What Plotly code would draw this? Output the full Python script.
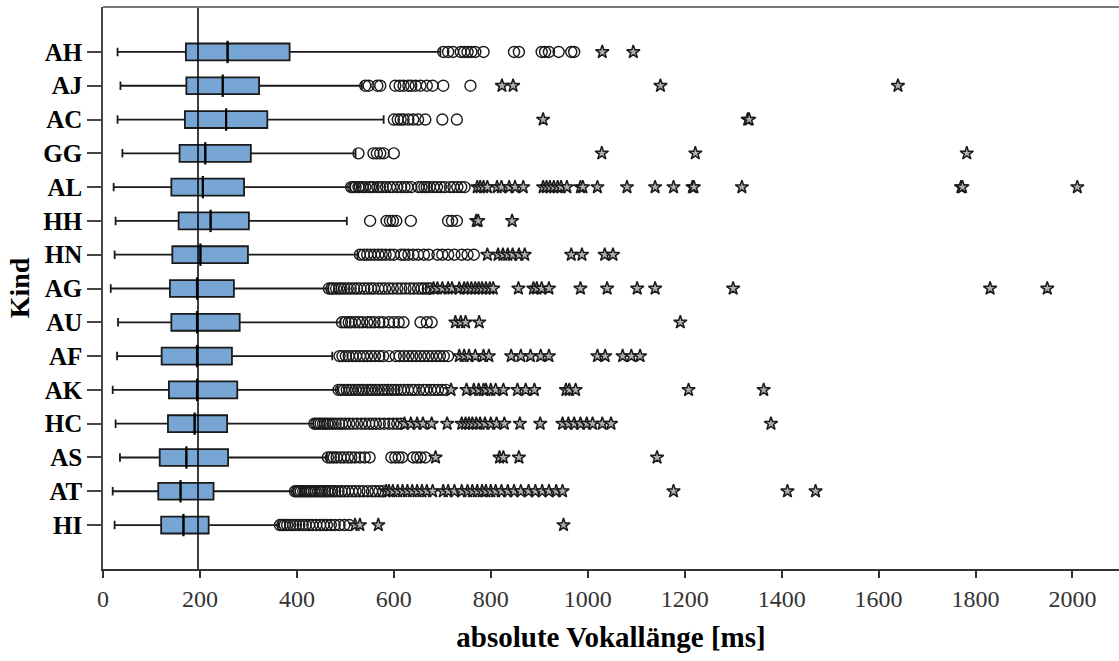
import plotly.graph_objects as go

# Vowel length per child: box statistics (ms), listed top to bottom
kinds = ["AH", "AJ", "AC", "GG", "AL", "HH", "HN", "AG", "AU", "AF", "AK", "HC", "AS", "AT", "HI"]
lower_whisker = [30, 36, 30, 40, 22, 26, 24, 16, 31, 29, 20, 26, 35, 20, 24]
q1 = [171, 172, 169, 158, 141, 156, 143, 138, 141, 121, 136, 134, 117, 114, 120]
median = [257, 247, 254, 211, 206, 222, 201, 194, 194, 194, 194, 189, 172, 160, 166]
q3 = [385, 322, 339, 305, 291, 301, 299, 270, 282, 266, 277, 256, 258, 228, 218]
upper_whisker = [696, 534, 579, 521, 510, 503, 525, 465, 490, 473, 484, 434, 462, 393, 362]

# Outliers (circles) and extreme values (stars) per child
AH_circ = [702, 712, 722, 738, 745, 752, 760, 768, 785, 848, 858, 905, 912, 920, 940, 966, 972]
AH_star = [1030, 1094]
AJ_circ = [541, 548, 566, 572, 603, 612, 620, 630, 636, 645, 655, 668, 680, 702, 758]
AJ_star = [823, 846, 1150, 1640]
AC_circ = [600, 608, 614, 620, 630, 640, 650, 665, 700, 730]
AC_star = [908, 1330, 1333]
GG_circ = [527, 558, 565, 572, 579, 600]
GG_star = [1029, 1222, 1782]
AL_circ = [512, 516, 521, 527, 530, 536, 541, 549, 553, 558, 566, 571, 577, 584, 592, 598, 607,
           615, 622, 628, 636, 651, 657, 663, 668, 674, 682, 689, 697, 705, 716, 723, 731, 739, 746]
AL_star = [772, 778, 785, 793, 813, 822, 838, 850, 867, 908, 915, 922, 930, 938, 945, 957, 985,
           990, 1020, 1081, 1139, 1177, 1216, 1219, 1318, 1770, 1773, 2010]
HH_circ = [551, 585, 592, 598, 605, 635, 712, 720, 730]
HH_star = [770, 774, 844]
HN_circ = [530, 538, 545, 552, 560, 568, 575, 583, 592, 600, 615, 622, 630, 640, 650, 662, 672,
           690, 700, 712, 725, 740, 752, 765]
HN_star = [793, 815, 825, 835, 845, 858, 870, 966, 988, 1035, 1052]
AG_circ = [466, 471, 475, 481, 487, 492, 498, 505, 511, 518, 524, 531, 539, 546, 553, 559, 568,
           575, 582, 590, 598, 607, 615, 624, 633, 641, 650, 657, 663, 670, 676]
AG_star = [682, 690, 700, 712, 720, 735, 745, 752, 760, 768, 775, 782, 790, 798, 805, 857, 888,
           895, 905, 920, 985, 1040, 1102, 1139, 1300, 1830, 1948]
AU_circ = [493, 500, 507, 512, 520, 528, 535, 545, 552, 560, 570, 578, 590, 600, 610, 620, 655,
           668, 678]
AU_star = [727, 738, 748, 776, 1191]
AF_circ = [488, 494, 501, 507, 515, 522, 530, 537, 545, 553, 561, 570, 578, 590, 604, 612, 621,
           630, 638, 646, 655, 663, 671, 679, 688, 695, 703, 712]
AF_star = [735, 745, 755, 768, 785, 796, 842, 862, 882, 903, 920, 1020, 1036, 1072, 1090, 1108]
AK_circ = [486, 491, 497, 503, 509, 514, 521, 527, 533, 538, 545, 551, 556, 563, 569, 576, 581,
           588, 595, 601, 607, 614, 621, 629, 637, 643, 652, 661, 667, 676, 684, 691, 699, 707]
AK_star = [718, 750, 765, 775, 785, 790, 800, 810, 826, 855, 872, 890, 955, 962, 975, 1208, 1363]
HC_circ = [436, 440, 445, 449, 454, 458, 463, 468, 474, 480, 487, 493, 500, 508, 516, 524, 533,
           541, 549, 556, 563, 571, 580, 590, 599, 607, 615]
HC_star = [622, 635, 648, 660, 678, 710, 740, 748, 755, 762, 770, 778, 788, 800, 812, 828, 860,
           902, 948, 960, 972, 985, 998, 1010, 1030, 1048, 1378]
AS_circ = [464, 470, 476, 482, 490, 497, 505, 512, 520, 530, 540, 550, 595, 603, 610, 617, 640,
           648, 655, 665]
AS_star = [686, 818, 826, 858, 1143]
AT_circ = [396, 400, 404, 408, 413, 417, 421, 426, 430, 435, 439, 444, 449, 453, 458, 463, 468,
           473, 479, 486, 492, 499, 506, 514, 521, 529, 537, 546, 555, 562, 570, 578]
AT_star = [584, 590, 598, 608, 618, 628, 638, 648, 658, 668, 680, 702, 712, 725, 740, 752, 762,
           772, 782, 790, 800, 810, 822, 835, 848, 862, 878, 892, 906, 920, 935, 948, 1177, 1412, 1470]
HI_circ = [365, 370, 375, 380, 386, 392, 398, 405, 412, 418, 425, 432, 440, 448, 455, 462, 470,
           478, 488, 498, 508]
HI_star = [520, 530, 568, 950]

circles = [AH_circ, AJ_circ, AC_circ, GG_circ, AL_circ, HH_circ, HN_circ, AG_circ,
           AU_circ, AF_circ, AK_circ, HC_circ, AS_circ, AT_circ, HI_circ]
stars = [AH_star, AJ_star, AC_star, GG_star, AL_star, HH_star, HN_star, AG_star,
         AU_star, AF_star, AK_star, HC_star, AS_star, AT_star, HI_star]

reference_ms = 196

serif = "Liberation Serif"
ink = "#1a1a1a"

fig = go.Figure()

fig.add_trace(go.Box(
    y=kinds, q1=q1, median=median, q3=q3,
    lowerfence=lower_whisker, upperfence=upper_whisker,
    orientation="h", boxpoints=False,
    width=0.5, whiskerwidth=0.5,
    fillcolor="#78a6d4",
    line=dict(color=ink, width=1.8),
    showlegend=False, hoverinfo="skip",
))

# thicker median strokes
fig.add_trace(go.Scatter(
    x=median, y=kinds, mode="markers",
    marker=dict(symbol="line-ns", size=16, line=dict(color="black", width=2.2)),
    showlegend=False, hoverinfo="skip",
))

cx, cy, sx, sy = [], [], [], []
for k, c, s in zip(kinds, circles, stars):
    cx += c
    cy += [k] * len(c)
    sx += s
    sy += [k] * len(s)

fig.add_trace(go.Scatter(
    x=cx, y=cy, mode="markers",
    marker=dict(symbol="circle-open", size=11, color=ink, line=dict(width=1.4)),
    showlegend=False, hoverinfo="skip",
))
fig.add_trace(go.Scatter(
    x=sx, y=sy, mode="markers",
    marker=dict(symbol="star", size=10, color="#b0b0b0", line=dict(width=1.5, color=ink)),
    showlegend=False, hoverinfo="skip",
))

# reference line and top frame
fig.add_shape(type="line", xref="x", yref="paper", x0=reference_ms, x1=reference_ms, y0=0, y1=1,
              line=dict(color="black", width=1.5))
fig.add_shape(type="line", xref="paper", yref="paper", x0=0, x1=1, y0=1, y1=1,
              line=dict(color="#777777", width=2))

fig.update_layout(
    width=1119, height=661,
    margin=dict(l=103, r=0, t=7, b=92),
    paper_bgcolor="white", plot_bgcolor="white",
    font=dict(family=serif, color="#222"),
)
fig.update_xaxes(
    range=[0, 2096],
    tickvals=[0, 200, 400, 600, 800, 1000, 1200, 1400, 1600, 1800, 2000],
    showgrid=False, zeroline=False,
    showline=True, linecolor="#333", linewidth=1.5,
    ticks="outside", ticklen=7, tickcolor="#333", tickwidth=1.5,
    tickfont=dict(family=serif, size=24, color="#333"),
    title=dict(text="absolute Vokallänge [ms]", standoff=16,
               font=dict(family=serif, size=29, color="black", weight="bold")),
)
fig.update_yaxes(
    type="category", categoryorder="array", categoryarray=kinds[::-1],
    range=[-1.30, 15.33],
    showgrid=False, zeroline=False,
    showline=True, linecolor="#444", linewidth=1.5,
    ticks="outside", ticklen=14, tickcolor="#444", tickwidth=1.5,
    tickfont=dict(family=serif, size=25, color="black", weight="bold"),
    title=dict(text="Kind", standoff=6,
               font=dict(family=serif, size=28, color="black", weight="bold")),
)

fig.write_html("out.html")
